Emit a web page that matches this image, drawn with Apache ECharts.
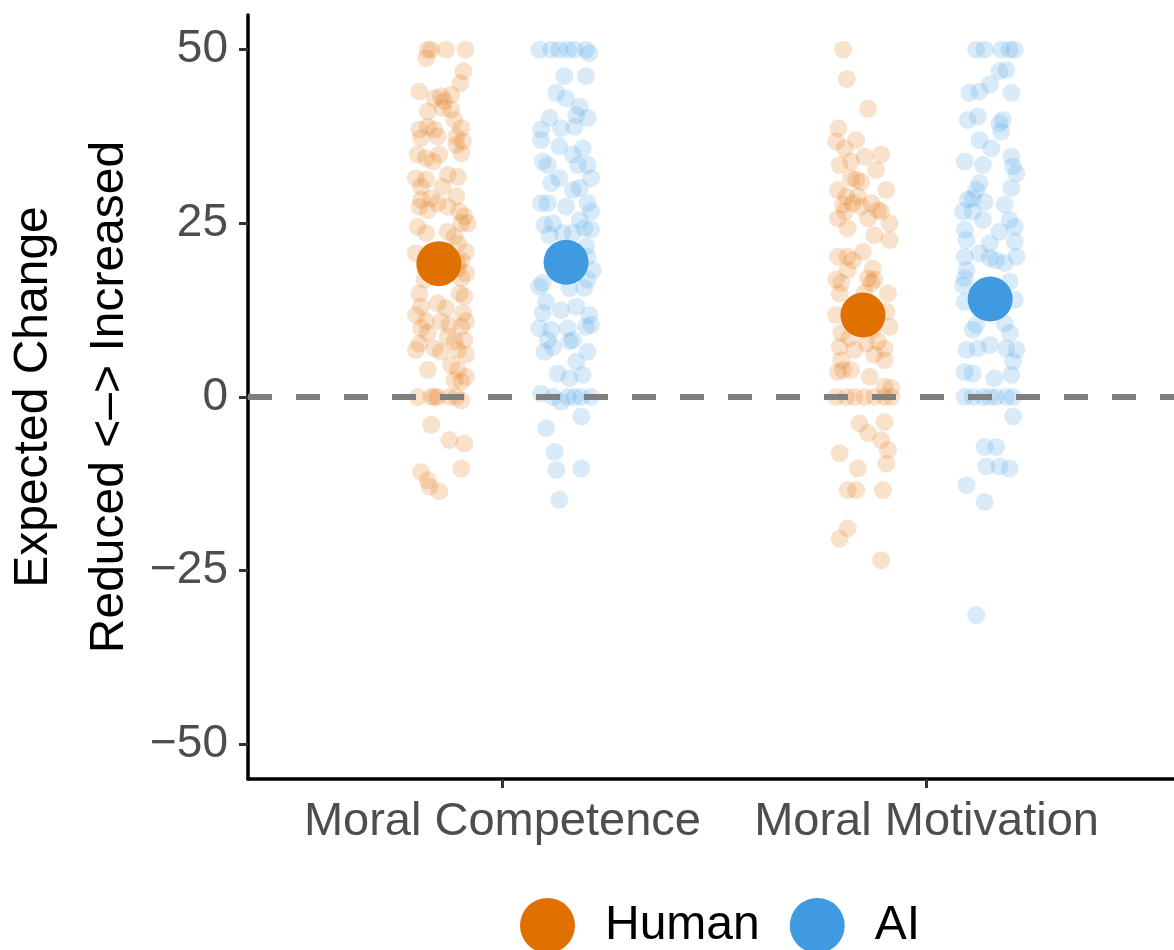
<!DOCTYPE html>
<html>
<head>
<meta charset="utf-8">
<script src="https://cdn.jsdelivr.net/npm/echarts@6/dist/echarts.min.js"></script>
<style>
  html, body { margin: 0; padding: 0; background: #ffffff; }
  #chart { width: 1174px; height: 950px; }
</style>
</head>
<body>
<div id="chart"></div>
<script>
// ---- data ----
const categories = ['Moral Competence', 'Moral Motivation'];
const groups = ['Human', 'AI'];
const yTicks = [-50, -25, 0, 25, 50];

// each point: [horizontal jitter (category units), value]
const humanCompetence = [
  [-0.026,50],[-0.03,48.8],[-0.018,50],[0.017,50],[0.063,50],[0.058,46.9],[0.051,45.2],[-0.046,44],
  [0.005,43.3],[0.029,43.5],[-0.01,43],[0.013,42.6],[-0.026,41.1],[0.009,41.6],[0.029,41.4],[0.037,39.9],
  [-0.046,38.5],[-0.026,38.9],[-0.01,38.5],[0.053,38.7],[-0.042,37.3],[-0.003,37.5],[0.041,37.5],[0.057,36.8],
  [-0.05,34.9],[-0.03,34.4],[-0.014,33.9],[0.001,34.9],[0.053,35.1],[0.041,36.3],[-0.054,31.5],[-0.03,31.3],
  [0.021,32],[0.045,31.7],[-0.042,30.3],[0.009,30.3],[-0.042,28.4],[-0.018,28.6],[0.041,28.9],[-0.046,27.4],
  [-0.026,26.9],[-0.003,27.9],[0.021,27.4],[0.049,26.7],[0.06,26],[0.053,25],[0.068,25],[-0.05,24.5],
  [-0.03,23.6],[0.021,23.8],[0.037,23.1],[0.045,22.1],[-0.054,20.7],[0.064,20.9],[0.053,19.7],[0.045,19.3],
  [0.045,18.5],[0.064,17.8],[-0.034,16.9],[0.053,17.1],[-0.046,14.9],[0.049,14.9],[0.06,14.5],[-0.042,13],
  [-0.003,13.5],[0.017,12.8],[-0.054,11.8],[0.057,12.1],[0.064,10.9],[-0.03,10.9],[0.005,10.9],[0.025,10.4],
  [-0.042,9.9],[-0.026,9.2],[0.053,10.1],[0.021,8.7],[0.037,8],[0.06,8.2],[-0.046,7.7],[-0.054,6.8],
  [-0.01,7],[0.005,6.5],[0.045,6.8],[0.064,6.1],[0.029,4.6],[0.045,3.9],[0.064,2.9],[-0.026,3.9],
  [0.037,2.4],[0.053,2.2],[-0.05,0],[-0.01,0],[-0.003,0],[0.025,0],[0.041,0],[0.053,-0.5],
  [-0.018,0],[-0.018,-4],[0.025,-6.2],[0.06,-6.7],[0.053,-10.3],[-0.042,-10.8],[-0.026,-12],[-0.022,-12.9],
  [0.001,-13.6]
];
const aiCompetence = [
  [-0.063,50],[-0.035,50],[-0.016,50],[0.004,50],[0.02,50],[0.047,50],[0.055,49.5],[-0.004,46.2],
  [0.047,46.2],[-0.023,43.8],[0,43],[0.032,41.8],[-0.039,40.2],[0.024,40.6],[0.051,40.2],[-0.012,38.7],
  [0.02,38.9],[-0.059,38.5],[-0.059,37],[-0.016,36.1],[0.039,35.8],[0.016,34.9],[-0.055,33.9],[-0.043,33.4],
  [0.028,33.4],[0.051,33.4],[0.059,31.5],[-0.016,31.5],[0.032,30.1],[-0.035,30.8],[0.016,29.8],[-0.059,27.9],
  [-0.043,27.9],[0,27.4],[0.051,27.9],[0.059,26.7],[-0.051,24.8],[-0.031,25],[0.032,25.5],[0.043,24.3],
  [0.059,24.1],[-0.039,23.3],[-0.008,23.6],[0.016,23.6],[0.047,21.7],[0.051,20.2],[0.063,18.3],[0.051,16.9],
  [-0.055,16.4],[-0.063,15.9],[0.008,15.7],[0.043,15.7],[-0.047,13.7],[-0.055,12.1],[-0.012,12.5],[0.024,13],
  [0.055,11.8],[-0.063,9.9],[-0.035,9.7],[0.004,9.9],[0.047,10.1],[0.059,10.4],[-0.043,8.2],[-0.031,7.2],
  [0.008,8],[0.016,8.2],[-0.051,6.5],[0.051,6.5],[0.024,5.1],[-0.02,3.4],[0.039,3.2],[0.008,2.7],
  [-0.059,0.5],[-0.031,0],[-0.012,-0.7],[0.004,0],[0.02,0],[0.036,0],[0.059,0],[0.036,-2.8],
  [-0.047,-4.5],[-0.027,-7.9],[-0.023,-10.5],[0.036,-10.3],[-0.016,-14.8]
];
const humanMotivation = [
  [-0.047,50],[-0.038,45.8],[0.012,41.5],[-0.058,38.7],[-0.063,36.8],[-0.016,37],[-0.043,35.8],[-0.055,33.4],
  [-0.028,33.9],[0.004,34.6],[0.043,34.9],[0.031,32.7],[-0.028,31.5],[-0.016,31.3],[-0.004,31],[-0.059,29.8],
  [0.055,29.8],[-0.039,28.9],[-0.012,28.9],[-0.047,27.7],[-0.024,27.9],[-0.004,27.4],[0.02,27.9],[0.035,26.9],
  [0.043,26.7],[0.063,25],[-0.059,25.7],[-0.043,26.7],[-0.036,24.3],[0.012,25.7],[0.027,23.3],[0.063,22.6],
  [-0.059,20.2],[-0.036,20.2],[-0.024,19.7],[0,20.9],[-0.036,18.3],[0.023,18.5],[0.012,17.1],[0.027,16.9],
  [-0.063,16.9],[-0.051,16.4],[0.02,16.4],[0.059,14.9],[-0.055,14.9],[-0.063,11.8],[0.055,12.3],[-0.051,9.2],
  [-0.032,8.5],[0.063,10.1],[-0.055,7.2],[-0.02,6.8],[0.008,7.7],[0.035,8],[0.051,7],[-0.051,5.3],
  [0.051,5.3],[0.027,6.1],[-0.047,3.9],[-0.059,3.6],[-0.028,3.9],[0.016,2.9],[0.051,1.5],[0.067,1.3],
  [-0.063,0],[-0.039,0],[-0.02,0],[0.004,0],[0.027,0],[0.051,0],[0.067,0],[-0.008,-3.8],
  [0.051,-3.6],[0.012,-5.2],[0.043,-6.2],[0.059,-7.6],[0.055,-9.6],[-0.055,-8.1],[-0.012,-10.3],[-0.036,-13.4],
  [-0.016,-13.4],[0.047,-13.4],[-0.036,-18.9],[-0.055,-20.4],[0.043,-23.5],[0.004,15],[-0.02,10.7],[0.023,9.7]
];
const aiMotivation = [
  [-0.033,50],[-0.013,50],[0.026,50],[0.046,50],[0.058,50],[0.022,46.9],[0.038,47.1],[-0.049,43.8],
  [-0.025,44],[-0.001,45],[0.05,43.8],[-0.053,39.9],[-0.029,40.4],[0.022,39.4],[0.026,38.2],[0.03,39.9],
  [-0.025,37],[0.003,35.8],[-0.06,33.9],[-0.017,33.4],[0.05,34.6],[0.054,33.2],[0.062,32.2],[-0.025,30.8],
  [-0.033,29.8],[0.05,30.1],[-0.053,28.4],[-0.041,28.6],[-0.013,28.1],[-0.064,26.7],[-0.041,26.7],[-0.017,25.5],
  [0.034,27.7],[0.046,25.5],[0.022,23.8],[0.058,24.5],[-0.06,24.1],[-0.056,22.6],[-0.001,22.1],[0.058,22.4],
  [-0.06,20.2],[-0.025,20.7],[-0.001,20],[0.014,19.7],[0.062,20.2],[0.034,19.3],[-0.056,18.3],[-0.06,17.1],
  [-0.06,13.7],[0.058,14],[-0.064,16.1],[0.046,16.6],[-0.033,10.4],[0.034,10.6],[0.046,9.2],[-0.041,9.7],
  [-0.056,6.8],[-0.029,7],[0.038,7],[0.062,6.8],[-0.001,7.5],[0.054,5.1],[-0.06,3.6],[-0.041,3.4],
  [0.01,2.7],[0.05,3.2],[-0.06,0],[-0.041,0],[-0.017,0],[-0.001,0],[0.014,0],[0.038,0],
  [0.054,0],[0.054,-2.8],[-0.013,-7.2],[0.014,-7.2],[-0.009,-10],[0.022,-10],[0.046,-10.3],[-0.056,-12.7],
  [-0.013,-15.1],[-0.033,-31.4]
];
const humanMeans = [19.2, 11.8];
const aiMeans = [19.4, 14.1];

// ---- styling ----
const FONT = '"Liberation Sans", Arial, Helvetica, sans-serif';
const HUMAN_COLOR = '#E07000';
const AI_COLOR = '#409AE1';
const DODGE = 0.15;

function place(points, catIndex, offset) {
  return points.map(p => [catIndex + 1 + offset + p[0], p[1]]);
}

const chart = echarts.init(document.getElementById('chart'), null, { renderer: 'canvas' });

const option = {
  animation: false,
  backgroundColor: '#ffffff',
  grid: {
    left: 248, right: -7, top: 15, bottom: 171,
    containLabel: false,
    outerBoundsMode: 'none'
  },
  legend: {
    data: groups,
    left: 515,
    top: 893,
    icon: 'circle',
    itemWidth: 55,
    itemHeight: 55,
    itemGap: 30,
    textStyle: { fontSize: 48, color: '#000000', fontFamily: FONT, padding: [0, 0, 0, 25] },
    selectedMode: false
  },
  xAxis: {
    type: 'value',
    min: 0.4,
    max: 2.6,
    splitLine: { show: false },
    axisLine: { show: true, onZero: false, lineStyle: { color: '#000000', width: 3.5 } },
    axisTick: { show: true, customValues: [1, 2], length: 9, lineStyle: { color: '#333333', width: 3 } },
    axisLabel: {
      show: true,
      customValues: [1, 2],
      formatter: v => categories[Math.round(v) - 1],
      fontSize: 47, color: '#4D4D4D', fontFamily: FONT, margin: 20
    }
  },
  yAxis: {
    type: 'value',
    min: -55,
    max: 55,
    name: 'Expected Change\nReduced <\u2013> Increased',
    nameLocation: 'middle',
    nameRotate: 90,
    nameGap: 100,
    nameMoveOverlap: false,
    nameTextStyle: { fontSize: 48, color: '#000000', fontFamily: FONT, lineHeight: 76 },
    splitLine: { show: false },
    axisLine: { show: true, onZero: false, lineStyle: { color: '#000000', width: 3.5 } },
    axisTick: { show: true, customValues: yTicks, length: 9, lineStyle: { color: '#333333', width: 3 } },
    axisLabel: {
      show: true,
      customValues: yTicks,
      formatter: v => (v < 0 ? '\u2212' + Math.abs(v) : String(v)),
      fontSize: 46, color: '#4D4D4D', fontFamily: FONT, margin: 20
    }
  },
  series: [
    {
      name: 'Human points',
      type: 'scatter',
      symbol: 'circle',
      symbolSize: 18,
      itemStyle: { color: HUMAN_COLOR, opacity: 0.2 },
      data: place(humanCompetence, 0, -DODGE).concat(place(humanMotivation, 1, -DODGE)),
      z: 2,
      silent: true
    },
    {
      name: 'AI points',
      type: 'scatter',
      symbol: 'circle',
      symbolSize: 18,
      itemStyle: { color: AI_COLOR, opacity: 0.2 },
      data: place(aiCompetence, 0, DODGE).concat(place(aiMotivation, 1, DODGE)),
      z: 2,
      silent: true
    },
    {
      name: 'zero line',
      type: 'line',
      data: [],
      z: 3,
      silent: true,
      markLine: {
        silent: true,
        symbol: ['none', 'none'],
        label: { show: false },
        lineStyle: { color: '#7F7F7F', width: 6, type: [24, 24] },
        data: [{ yAxis: 0 }],
        z: 3
      }
    },
    {
      name: 'Human',
      type: 'scatter',
      symbol: 'circle',
      symbolSize: 45,
      itemStyle: { color: HUMAN_COLOR, opacity: 1 },
      data: humanMeans.map((m, i) => [i + 1 - DODGE, m]),
      z: 5
    },
    {
      name: 'AI',
      type: 'scatter',
      symbol: 'circle',
      symbolSize: 45,
      itemStyle: { color: AI_COLOR, opacity: 1 },
      data: aiMeans.map((m, i) => [i + 1 + DODGE, m]),
      z: 5
    }
  ]
};

chart.setOption(option);
</script>
</body>
</html>
